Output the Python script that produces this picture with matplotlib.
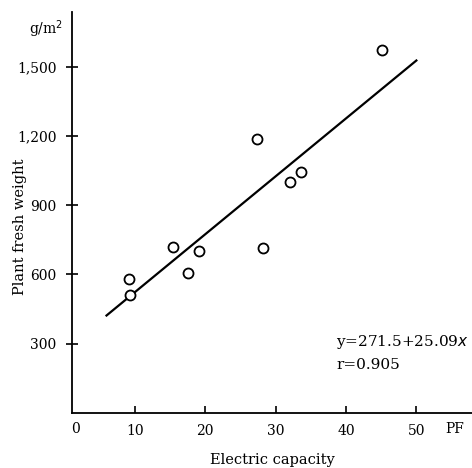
import matplotlib
matplotlib.use("Agg")
import matplotlib.pyplot as plt

# Data
capacity = [9.2, 9.3, 15.5, 17.6, 19.2, 27.3, 28.2, 32.1, 33.6, 45.1]
fresh_weight = [580, 509, 720, 607, 701, 1186, 713, 1001, 1045, 1571]
intercept = 271.5
slope = 25.09
fit_range = [6.0, 50.0]
x_ticks = [10, 20, 30, 40, 50]
y_ticks = [300, 600, 900, 1200, 1500]
y_tick_labels = ["300", "600", "900", "1,200", "1,500"]

plt.rcParams['font.family'] = ['DejaVu Serif']

fig = plt.figure(figsize=(4.72, 4.68), dpi=100)
ax = fig.add_axes([72/472, 55/468, 400/472, 401/468])

ax.plot(capacity, fresh_weight, 'o', mfc='white', mec='black', ms=7.2, mew=1.3, zorder=3)
fx = fit_range
fy = [intercept + slope * v for v in fx]
ax.plot(fx, fy, '-', color='black', lw=1.6)

ax.set_xlim(1.1, 57.9)
ax.set_ylim(0, 1736)
ax.spines['top'].set_visible(False)
ax.spines['right'].set_visible(False)
for s in ['left', 'bottom']:
    ax.spines[s].set_linewidth(1.3)

ax.set_xticks(x_ticks)
ax.set_yticks(y_ticks)
ax.set_yticklabels(y_tick_labels)
ax.tick_params(axis='x', direction='in', length=5, width=1.2, labelsize=10, pad=8)
ax.tick_params(axis='y', direction='inout', length=8, width=1.2, labelsize=10, pad=7)

# "0" origin label
fig.text(75/472, 1 - 429/468, "0", ha='center', va='center', fontsize=10)
# PF unit
fig.text(455/472, 1 - 429/468, "PF", ha='center', va='center', fontsize=10)
# g/m2 unit
fig.text(63/472, 1 - 29/468, "g/m$^2$", ha='right', va='center', fontsize=10)

fig.text(272/472, 1 - 460/468, "Electric capacity", ha='center', va='center', fontsize=10.5)
fig.text(20/472, 1 - 227/468, "Plant fresh weight", ha='center', va='center', rotation=90, fontsize=10.5)

fig.text(336/472, 1 - 342/468, "y=271.5+25.09$\\it{x}$", ha='left', va='center', fontsize=11)
fig.text(336/472, 1 - 365/468, "r=0.905", ha='left', va='center', fontsize=11)

fig.savefig("out.png", dpi=100)
